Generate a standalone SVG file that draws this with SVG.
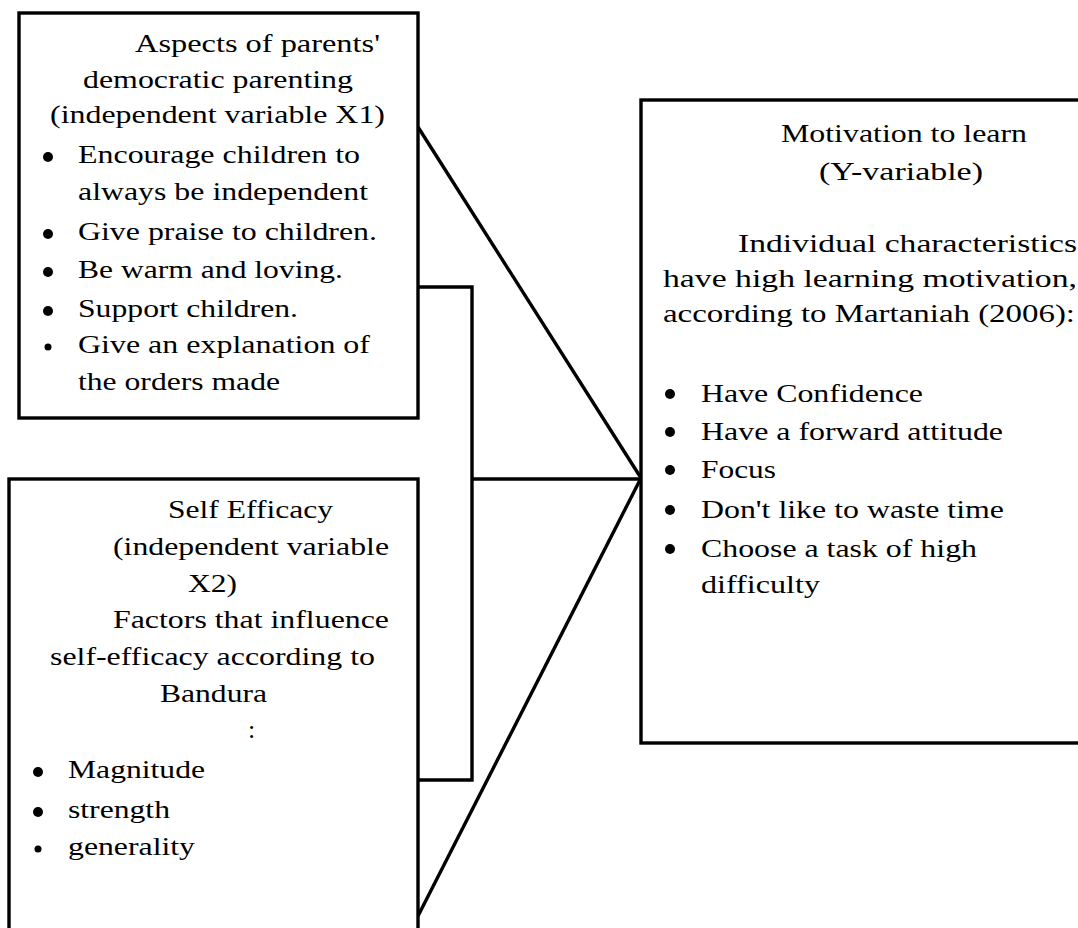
<svg xmlns="http://www.w3.org/2000/svg" width="1078" height="928" viewBox="0 0 1078 928">
<style>
.box{fill:#fff;stroke:#000;stroke-width:3.4}
.c{fill:none;stroke:#000;stroke-width:3.4}
.t{font-family:"Liberation Serif","Noto Serif","DejaVu Serif",serif;font-size:26px;fill:#000}
.d{fill:#000}
</style>
<rect width="1078" height="928" fill="#fff"/>
<g id="connectors">
<line class="c" x1="418" y1="127" x2="641" y2="478"/>
<line class="c" x1="418" y1="916" x2="641" y2="478"/>
<polyline class="c" points="418,287 472,287 472,780 418,780"/>
<line class="c" x1="472" y1="479" x2="641" y2="479"/>
</g>
<g id="node-x1">
<rect class="box" x="19" y="13" width="399" height="405"/>
<text class="t" x="135" y="52" textLength="245" lengthAdjust="spacingAndGlyphs">Aspects of parents'</text>
<text class="t" x="83" y="88" textLength="270" lengthAdjust="spacingAndGlyphs">democratic parenting</text>
<text class="t" x="50" y="123" textLength="335" lengthAdjust="spacingAndGlyphs">(independent variable X1)</text>
<circle class="d" cx="48" cy="157" r="5"/>
<text class="t" x="78" y="163" textLength="282" lengthAdjust="spacingAndGlyphs">Encourage children to</text>
<text class="t" x="78" y="200" textLength="290" lengthAdjust="spacingAndGlyphs">always be independent</text>
<circle class="d" cx="48" cy="234" r="5"/>
<text class="t" x="78" y="240" textLength="299" lengthAdjust="spacingAndGlyphs">Give praise to children.</text>
<circle class="d" cx="48" cy="272" r="5"/>
<text class="t" x="78" y="278" textLength="265" lengthAdjust="spacingAndGlyphs">Be warm and loving.</text>
<circle class="d" cx="48" cy="311" r="5"/>
<text class="t" x="78" y="317" textLength="220" lengthAdjust="spacingAndGlyphs">Support children.</text>
<circle class="d" cx="48" cy="347" r="3.5"/>
<text class="t" x="78" y="353" textLength="292" lengthAdjust="spacingAndGlyphs">Give an explanation of</text>
<text class="t" x="78" y="390" textLength="202" lengthAdjust="spacingAndGlyphs">the orders made</text>
</g>
<g id="node-x2">
<rect class="box" x="9" y="479" width="409" height="470"/>
<text class="t" x="168" y="518" textLength="165" lengthAdjust="spacingAndGlyphs">Self Efficacy</text>
<text class="t" x="113" y="555" textLength="276" lengthAdjust="spacingAndGlyphs">(independent variable</text>
<text class="t" x="188" y="592" textLength="49" lengthAdjust="spacingAndGlyphs">X2)</text>
<text class="t" x="113" y="628" textLength="276" lengthAdjust="spacingAndGlyphs">Factors that influence</text>
<text class="t" x="50" y="665" textLength="325" lengthAdjust="spacingAndGlyphs">self-efficacy according to</text>
<text class="t" x="160" y="702" textLength="107" lengthAdjust="spacingAndGlyphs">Bandura</text>
<text class="t" x="248" y="738">:</text>
<circle class="d" cx="38" cy="772" r="5"/>
<text class="t" x="68" y="778" textLength="137" lengthAdjust="spacingAndGlyphs">Magnitude</text>
<circle class="d" cx="38" cy="812" r="5"/>
<text class="t" x="68" y="818" textLength="102" lengthAdjust="spacingAndGlyphs">strength</text>
<circle class="d" cx="38" cy="849" r="3.5"/>
<text class="t" x="68" y="855" textLength="127" lengthAdjust="spacingAndGlyphs">generality</text>
</g>
<g id="node-y">
<rect class="box" x="641" y="100" width="460" height="643"/>
<text class="t" x="781" y="142" textLength="246" lengthAdjust="spacingAndGlyphs">Motivation to learn</text>
<text class="t" x="819" y="180" textLength="164" lengthAdjust="spacingAndGlyphs">(Y-variable)</text>
<text class="t" x="738" y="252" textLength="339" lengthAdjust="spacingAndGlyphs">Individual  characteristics</text>
<text class="t" x="663" y="287" textLength="414" lengthAdjust="spacingAndGlyphs">have high learning motivation,</text>
<text class="t" x="663" y="322" textLength="412" lengthAdjust="spacingAndGlyphs">according to Martaniah (2006):</text>
<circle class="d" cx="670" cy="394" r="5"/>
<text class="t" x="701" y="402" textLength="222" lengthAdjust="spacingAndGlyphs">Have Confidence</text>
<circle class="d" cx="670" cy="432" r="5"/>
<text class="t" x="701" y="440" textLength="302" lengthAdjust="spacingAndGlyphs">Have a forward attitude</text>
<circle class="d" cx="670" cy="470" r="5"/>
<text class="t" x="701" y="478" textLength="75" lengthAdjust="spacingAndGlyphs">Focus</text>
<circle class="d" cx="670" cy="510" r="5"/>
<text class="t" x="701" y="518" textLength="303" lengthAdjust="spacingAndGlyphs">Don't like to waste time</text>
<circle class="d" cx="670" cy="549" r="5"/>
<text class="t" x="701" y="557" textLength="276" lengthAdjust="spacingAndGlyphs">Choose a task of high</text>
<text class="t" x="701" y="593" textLength="119" lengthAdjust="spacingAndGlyphs">difficulty</text>
</g>
</svg>
